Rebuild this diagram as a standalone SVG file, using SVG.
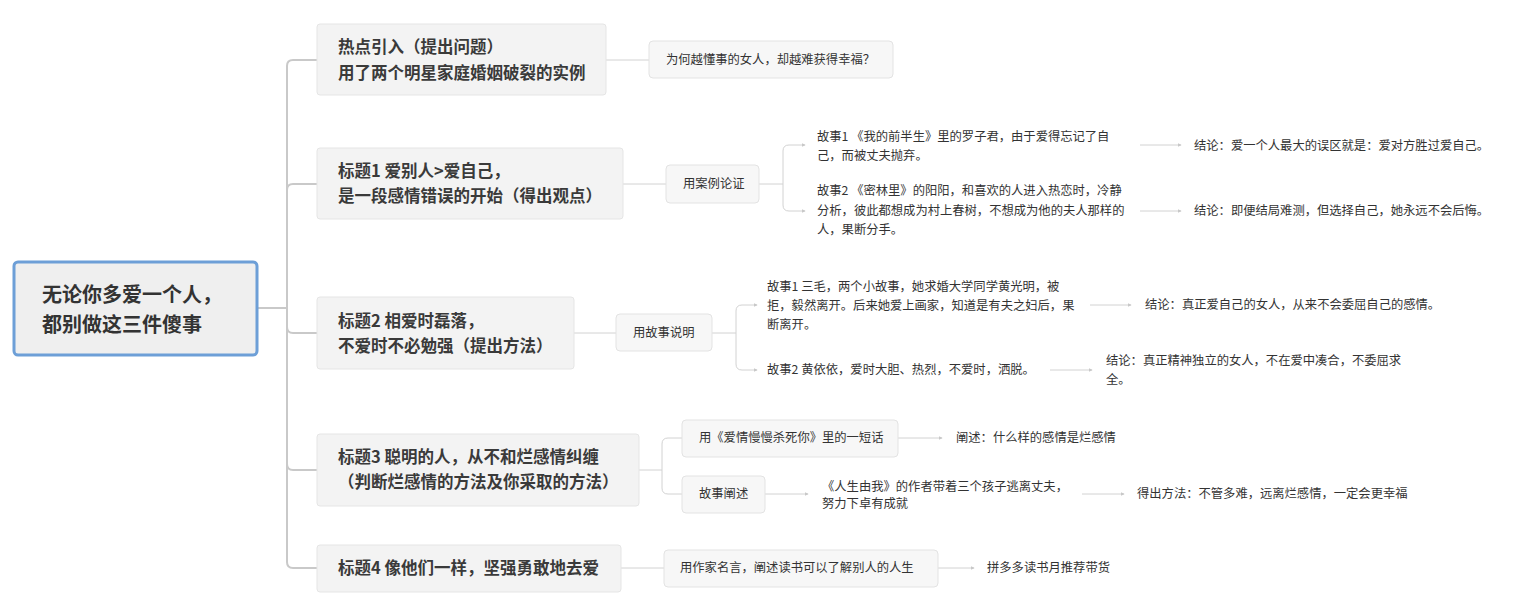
<svg xmlns="http://www.w3.org/2000/svg" width="1521" height="607" viewBox="0 0 1521 607">
<defs>
<marker id="arr" viewBox="0 0 6 6" refX="5" refY="3" markerWidth="4" markerHeight="4" markerUnits="userSpaceOnUse" orient="auto">
<path d="M0,0 L6,3 L0,6 z" fill="#c8c8c8"/>
</marker>
</defs>
<style>
text{font-family:"Noto Sans CJK SC","Liberation Sans",sans-serif;fill:#333}
.root rect{fill:#efefef;stroke:#6d9fd7;stroke-width:3}
.root text{font-size:20px;font-weight:bold}
.l1 rect{fill:#f3f3f3;stroke:#e5e5e5;stroke-width:1}
.l1 text{font-size:16.5px;font-weight:bold;fill:#3a3a3a}
.l2 rect{fill:#f7f7f7;stroke:#e3e3e3;stroke-width:1}
.s text,.l2 text{font-size:12.3px;fill:#333}
.main path{fill:none;stroke:#c9c9c9;stroke-width:2}
.sub path{fill:none;stroke:#d2d2d2;stroke-width:1}
.sub path.a{marker-end:url(#arr)}
</style>
<rect width="1521" height="607" fill="#ffffff"/>
<g id="connectors">
<g class="main">
<path d="M257,308 H287"/>
<path d="M287,308 V66 Q287,60 293,60 H317"/>
<path d="M287,308 V190 Q287,184 293,184 H317"/>
<path d="M287,308 V327 Q287,333 293,333 H317"/>
<path d="M287,308 V464 Q287,470 293,470 H317"/>
<path d="M287,308 V562 Q287,568 293,568 H317"/>
</g>
<g class="sub">
<path d="M606,60 H649"/>
<path d="M623,184 H666"/>
<path d="M759,184 H783"/>
<path class="a" d="M783,184 V151 Q783,145 789,145 H805"/>
<path class="a" d="M783,184 V205 Q783,211 789,211 H805"/>
<path class="a" d="M1140,145 H1181"/>
<path class="a" d="M1140,211 H1181"/>
<path d="M574,333 H616"/>
<path d="M712,333 H736"/>
<path class="a" d="M736,333 V311 Q736,305 742,305 H757"/>
<path class="a" d="M736,333 V364 Q736,370 742,370 H757"/>
<path class="a" d="M1090,305 H1131"/>
<path class="a" d="M1050,370 H1092"/>
<path d="M639,470 H662"/>
<path d="M662,470 V444 Q662,438 668,438 H682"/>
<path d="M662,470 V488 Q662,494 668,494 H682"/>
<path class="a" d="M898,438 H942"/>
<path class="a" d="M765,494 H808"/>
<path class="a" d="M1082,494 H1124"/>
<path d="M621,568 H664"/>
<path class="a" d="M938,568 H974"/>
</g>
</g>
<g id="root" class="root">
<rect x="14" y="262" width="243" height="93" rx="4"/>
<text x="42" y="302">无论你多爱一个人，</text>
<text x="42" y="332">都别做这三件傻事</text>
</g>
<g id="n1" class="l1">
<rect x="317" y="24" width="289" height="71" rx="3"/>
<text x="338" y="53">热点引入（提出问题）</text>
<text x="338" y="79">用了两个明星家庭婚姻破裂的实例</text>
</g>
<g id="n2" class="l1">
<rect x="317" y="148" width="306" height="71" rx="3"/>
<text x="338" y="177">标题1 爱别人&gt;爱自己，</text>
<text x="338" y="202">是一段感情错误的开始（得出观点）</text>
</g>
<g id="n3" class="l1">
<rect x="317" y="297" width="257" height="72" rx="3"/>
<text x="338" y="327">标题2 相爱时磊落，</text>
<text x="338" y="352">不爱时不必勉强（提出方法）</text>
</g>
<g id="n4" class="l1">
<rect x="317" y="434" width="322" height="72" rx="3"/>
<text x="338" y="463">标题3 聪明的人，从不和烂感情纠缠</text>
<text x="338" y="488">（判断烂感情的方法及你采取的方法）</text>
</g>
<g id="n5" class="l1">
<rect x="317" y="545" width="304" height="47" rx="3"/>
<text x="338" y="574">标题4 像他们一样，坚强勇敢地去爱</text>
</g>
<g id="n1a" class="l2">
<rect x="649" y="41" width="244" height="37" rx="4"/>
<text x="666" y="64">为何越懂事的女人，却越难获得幸福？</text>
</g>
<g id="n2a" class="l2">
<rect x="666" y="165" width="93" height="38" rx="4"/>
<text x="683" y="188">用案例论证</text>
</g>
<g id="n2s1" class="s">
<text x="817" y="141">故事1 《我的前半生》里的罗子君，由于爱得忘记了自</text>
<text x="817" y="160">己，而被丈夫抛弃。</text>
</g>
<g id="n2s2" class="s">
<text x="817" y="195">故事2 《密林里》的阳阳，和喜欢的人进入热恋时，冷静</text>
<text x="817" y="215">分析，彼此都想成为村上春树，不想成为他的夫人那样的</text>
<text x="817" y="234">人，果断分手。</text>
</g>
<g id="n2c1" class="s">
<text x="1194" y="150">结论：爱一个人最大的误区就是：爱对方胜过爱自己。</text>
</g>
<g id="n2c2" class="s">
<text x="1194" y="215">结论：即便结局难测，但选择自己，她永远不会后悔。</text>
</g>
<g id="n3a" class="l2">
<rect x="616" y="314" width="96" height="37" rx="4"/>
<text x="633" y="337">用故事说明</text>
</g>
<g id="n3s1" class="s">
<text x="767" y="291">故事1 三毛，两个小故事，她求婚大学同学黄光明，被</text>
<text x="767" y="310">拒，毅然离开。后来她爱上画家，知道是有夫之妇后，果</text>
<text x="767" y="329">断离开。</text>
</g>
<g id="n3s2" class="s">
<text x="767" y="374">故事2 黄依依，爱时大胆、热烈，不爱时，洒脱。</text>
</g>
<g id="n3c1" class="s">
<text x="1145" y="309">结论：真正爱自己的女人，从来不会委屈自己的感情。</text>
</g>
<g id="n3c2" class="s">
<text x="1106" y="365">结论：真正精神独立的女人，不在爱中凑合，不委屈求</text>
<text x="1106" y="384">全。</text>
</g>
<g id="n4a" class="l2">
<rect x="682" y="420" width="216" height="37" rx="4"/>
<text x="699" y="442">用《爱情慢慢杀死你》里的一短话</text>
</g>
<g id="n4a1" class="s">
<text x="956" y="442">阐述：什么样的感情是烂感情</text>
</g>
<g id="n4b" class="l2">
<rect x="682" y="476" width="83" height="37" rx="4"/>
<text x="699" y="498">故事阐述</text>
</g>
<g id="n4b1" class="s">
<text x="822" y="491">《人生由我》的作者带着三个孩子逃离丈夫，</text>
<text x="822" y="508">努力下卓有成就</text>
</g>
<g id="n4b2" class="s">
<text x="1137" y="498">得出方法：不管多难，远离烂感情，一定会更幸福</text>
</g>
<g id="n5a" class="l2">
<rect x="664" y="550" width="274" height="37" rx="4"/>
<text x="680" y="572">用作家名言，阐述读书可以了解别人的人生</text>
</g>
<g id="n5a1" class="s">
<text x="987" y="572">拼多多读书月推荐带货</text>
</g>
</svg>
